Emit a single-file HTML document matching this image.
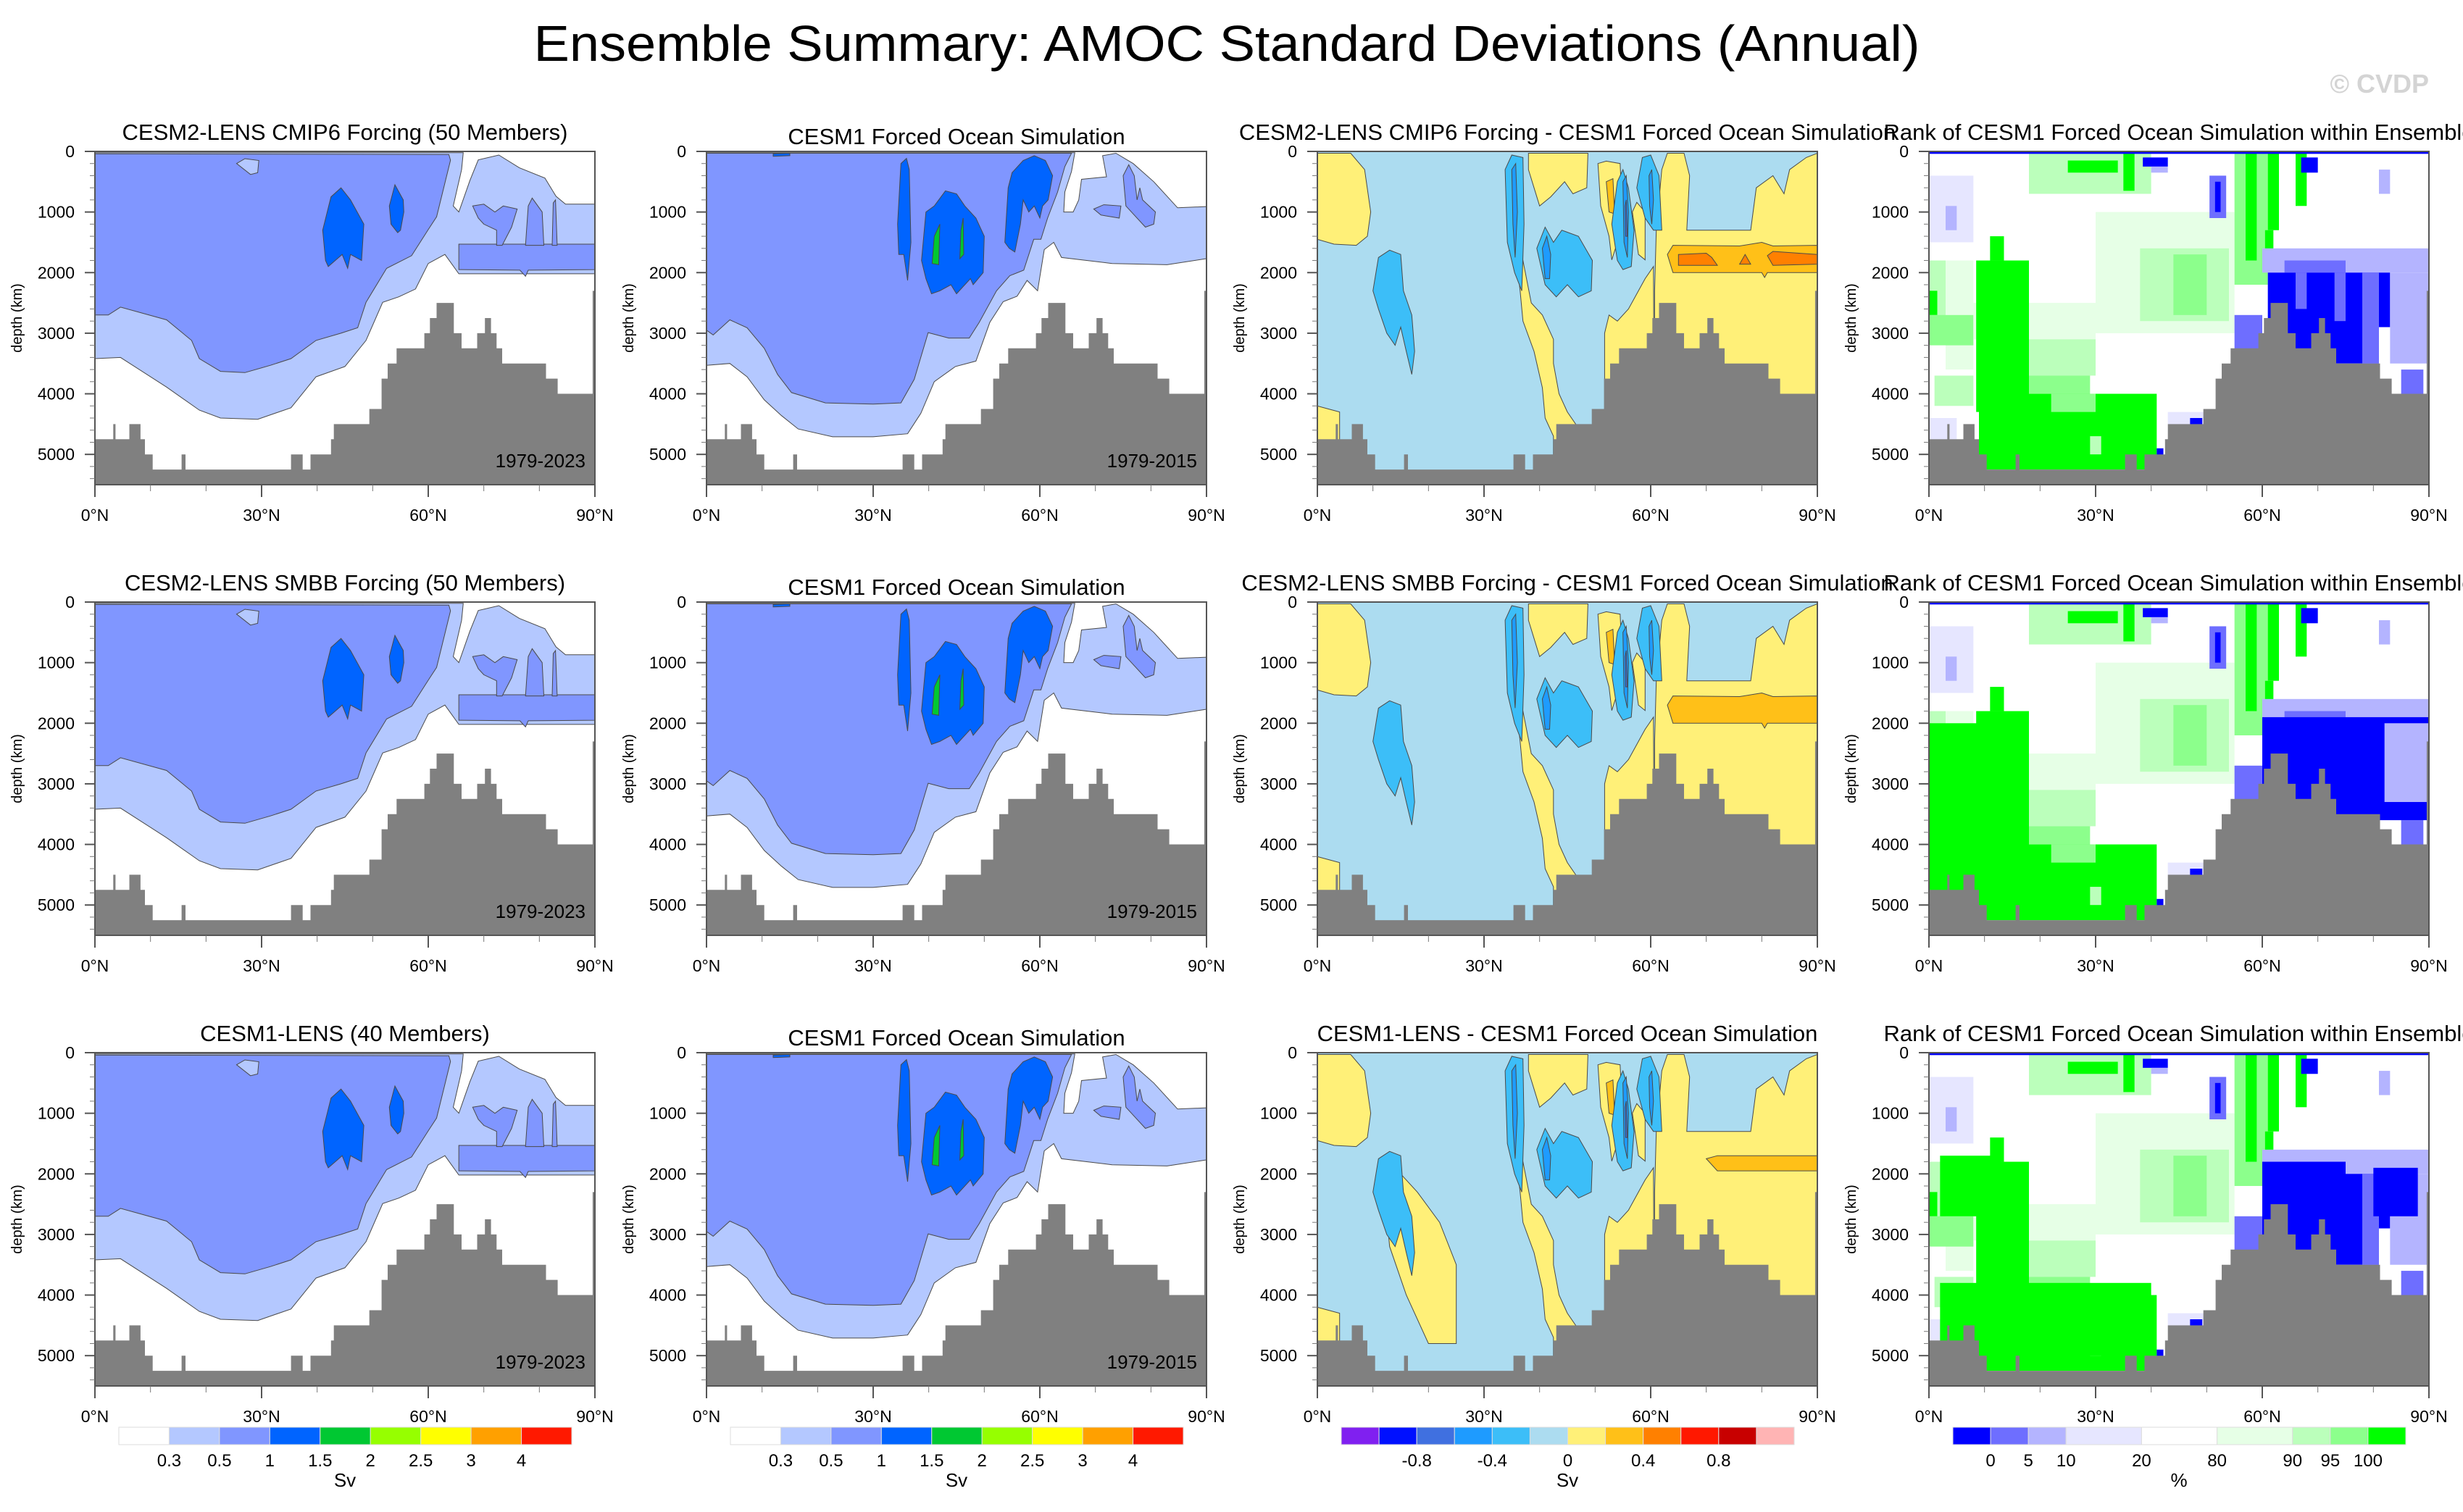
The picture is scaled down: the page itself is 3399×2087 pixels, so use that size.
<!DOCTYPE html>
<html><head><meta charset="utf-8"><title>Ensemble Summary: AMOC Standard Deviations (Annual)</title>
<style>html,body{margin:0;padding:0;background:#fff;}svg{display:block;font-family:"Liberation Sans",Arial,sans-serif;}</style>
</head><body>
<svg id="chart" xmlns="http://www.w3.org/2000/svg" width="3399" height="2087" viewBox="0 0 3399 2087">
<rect x="0" y="0" width="3399" height="2087" fill="#ffffff"/>
<text x="1693" y="84" font-size="70" text-anchor="middle" textLength="1913" lengthAdjust="spacingAndGlyphs" fill="#000">Ensemble Summary: AMOC Standard Deviations (Annual)</text>
<text x="3352" y="128" font-size="36" font-weight="bold" text-anchor="end" fill="#d4d4d4">© CVDP</text>
</svg>
<script>
// ---------- axis data ----------
const latTicks = [0, 30, 60, 90];
const latTickLabels = ['0°N', '30°N', '60°N', '90°N'];
const latMinorTicks = [10, 20, 40, 50, 70, 80];
const depthTicks = [0, 1000, 2000, 3000, 4000, 5000];
const depthTickLabels = ['0', '1000', '2000', '3000', '4000', '5000'];
const depthMinorTicks = [200,400,600,800,1200,1400,1600,1800,2200,2400,2600,2800,3200,3400,3600,3800,4200,4400,4600,4800,5200,5400];
const depthMax = 5500;
// ---------- bathymetry ----------
const bathyLatEdges = [0,3.3,3.7,6.2,8.2,9,10.4,15.6,16.3,35.3,37.4,38.8,42.5,43,49.4,51.6,52.7,54.3,59.3,60.3,61.5,64.6,66,68.8,70.2,71.3,72.3,73.3,81.2,83.3,89.6,90];
const bathyDepths = [4750,4500,4750,4500,4750,5000,5250,5000,5250,5000,5250,5000,4750,4500,4250,3750,3500,3250,3000,2750,2500,3000,3250,3000,2750,3000,3250,3500,3750,4000,2300];
// ---------- colour scales ----------
const stdColors = ['#ffffff','#b4c8ff','#8096ff','#0064ff','#00c832','#96ff00','#ffff00','#ffa000','#ff1900'];
const stdLabels = ['0.3','0.5','1','1.5','2','2.5','3','4'];
const diffColors = ['#8020f0','#0010ff','#4070e0','#1e9bff','#3cbef8','#acdcf0','#fff078','#ffc018','#ff8000','#ff1800','#c80000','#ffb4b4'];
const diffLabels = ['-0.8','-0.4','0','0.4','0.8'];
const diffLabelSlots = [2,4,6,8,10];
const rankColors = ['#0000ff','#6e6eff','#b4b4ff','#e6e6ff','#ffffff','#e6ffe6','#bbffbb','#8cff8c','#00ff00'];
const rankWidths = [1,1,1,2,2,2,1,1,1];
const rankLabels = ['0','5','10','20','80','90','95','100'];
// ---------- std-dev contour regions (lat, depth) ----------
const cesm2Light = [[0,20],[66.3,20],[66,300],[64.5,900],[65.5,1000],[67.5,480],[69,140],[72.7,60],[76.4,270],[81,440],[83,740],[84.7,870],[90,870],[90,2020],[65.5,2020],[63,1700],[60,1850],[57.7,2270],[54.7,2400],[51.8,2490],[48.8,3120],[45,3550],[39.8,3720],[35.3,4230],[29.3,4420],[22.6,4400],[18.8,4270],[12.9,3890],[4.6,3400],[0,3420]];
const cesm2Med = [[0,40],[63.7,50],[64,145],[61.5,1080],[60,1290],[57,1720],[52.5,1930],[48.8,2490],[47.3,2910],[44.3,3000],[39.8,3120],[35.3,3420],[31.6,3530],[27,3650],[22.6,3630],[18.8,3420],[17.4,3120],[12.9,2780],[4.6,2570],[2.4,2700],[0,2700]];
const cesm2MedBand = [[65.5,1530],[90,1530],[90,1950],[78,1960],[77.5,2060],[76.5,1960],[65.5,1950]];
const cesm2MedBlobA = [[68,900],[70,870],[72,1000],[73.5,900],[76,950],[75,1250],[73.3,1550],[72.3,1550],[72.3,1300],[70,1200],[69,1100]];
const cesm2MedBlobB = [[77.5,1550],[78,900],[78.7,770],[80.5,1000],[80.8,1550]];
const cesm2MedBlobC = [[82.3,1550],[82.5,850],[82.9,800],[83.2,1550]];
const cesm2LightBlob = [[25.5,200],[27,120],[29.5,150],[29.3,350],[28,380]];
const cesm2BlueA = [[41,1300],[42.5,750],[44.3,600],[46,800],[48.4,1200],[48,1800],[46,1700],[45.5,1930],[44.5,1700],[43,1820],[42,1900],[41.5,1800]];
const cesm2BlueB = [[53,900],[54,550],[55.5,800],[55.6,1000],[55,1300],[54.5,1340],[53.3,1200]];
const focLight = [[0,20],[66.3,20],[65.7,330],[64.5,670],[64.3,1000],[66,1000],[67,800],[67.5,460],[72,420],[71.3,70],[73.7,30],[76.8,200],[80.5,500],[84.8,930],[90,910],[90,1770],[82.9,1870],[73,1850],[63.9,1750],[62.5,1500],[60.8,1620],[59.6,2300],[57.7,2130],[55.9,2390],[53.4,2480],[51,2820],[48.5,3460],[44.8,3550],[41,3800],[38.6,4320],[36.2,4660],[30,4710],[22.7,4710],[16.5,4580],[13.5,4360],[10.4,4100],[7.3,3720],[4.2,3500],[0,3530]];
const focMed = [[0,30],[65.7,30],[64.5,250],[63.2,670],[61.4,1100],[60.2,1450],[58.9,1450],[57.1,1960],[54.6,2050],[52.2,2300],[49.1,2820],[47.3,3080],[43.6,3080],[39.9,2990],[37.4,3760],[35,4150],[30,4170],[21.4,4150],[15.3,3980],[12.8,3680],[10.4,3250],[7.3,2910],[4.2,2780],[1.2,3030],[0,2950]];
const focMedN1 = [[69.7,950],[71.5,880],[74.6,900],[74.3,1100],[71,1050]];
const focMedN2 = [[75,400],[76,220],[77,400],[77.5,800],[78,600],[78.5,800],[80.8,1000],[80.5,1200],[79,1250],[77,1050],[75.5,900]];
const focBlueA = [[34.4,1200],[35,200],[36,115],[36.5,300],[36.8,1500],[36.2,2130],[35.5,1700],[34.6,1700]];
const focBlueB = [[38.7,1800],[39.5,1000],[41,900],[43,650],[45,700],[46.5,900],[48.5,1100],[50,1400],[49.8,2000],[48,2200],[47.5,2100],[45,2350],[44,2200],[42,2300],[40.5,2350],[39.5,2100]];
const focBlueC = [[53.7,1500],[54.3,600],[55,350],[57,150],[59,70],[61,150],[62.3,400],[61.5,800],[60.5,900],[60,1100],[59,900],[58,1000],[57,800],[56.5,1200],[55.5,1660],[54.5,1600]];
const focBlueTop = [[12,40],[15,30],[15,70],[12,80]];
const focGreenA = [[40.6,1850],[41,1400],[42,1200],[41.8,1870]];
const focGreenB = [[45.6,1770],[45.8,1300],[46.2,1100],[46.3,1700]];
// ---------- difference regions ----------
const dYellowNW = [[0,30],[6,30],[8.5,300],[9.6,1000],[9,1400],[7,1550],[3,1530],[0,1450]];
const dYellowSW = [[0,4200],[2,4250],[4,4300],[4,5500],[0,5500]];
const dYellowMid = [[36,1900],[37,1800],[38.5,2500],[40.5,2700],[42.5,3100],[42.5,3500],[43.5,4000],[45,4300],[46.5,4500],[48,4800],[48,5500],[42.5,5500],[42.5,4700],[41,4400],[40.5,3900],[39,3300],[37,2800],[36.5,2300]];
const dYellowTop = [[38,30],[48.7,30],[48.5,600],[46,700],[44.5,500],[42,750],[40,900],[39,600],[38,300]];
const dYellowB = [[50.5,200],[52,160],[54.5,200],[54.8,800],[54,1500],[53,1790],[52.5,1400],[51,900]];
const dYellowC = [[56.7,1000],[57.5,840],[59,1000],[59,1790],[57.8,1700]];
const dYellowD = [[51.7,3000],[52.5,2700],[54,2800],[56,2600],[59,2100],[60.5,1900],[60.7,5500],[51.5,5500],[51.7,4200]];
const dYellowNE = [[60.7,5500],[60.7,2300],[61,1300],[62,300],[63,30],[66,30],[67,400],[66.5,1300],[75,1300],[78,1300],[79,600],[82,400],[84,700],[85,300],[88,100],[90,30],[90,5500]];
const dYellowRow3 = [[12,2200],[14,1900],[18,2300],[22,2800],[25,3500],[25,4800],[20,4800],[16,4000],[13,3200]];
const dGoldBand = [[63,1700],[64,1550],[76,1560],[80,1500],[82,1560],[90,1550],[90,2000],[81,2000],[80.5,2080],[80,2000],[64,2000]];
const dGoldBandR3 = [[70,1750],[72,1700],[90,1700],[90,1950],[72,1950]];
const dGoldSmall = [[52,500],[53.2,450],[53.5,1030],[52.5,1000]];
const dOrangeA = [[65,1700],[70,1680],[71,1750],[72,1880],[65,1880]];
const dOrangeB = [[76,1860],[77,1700],[78,1860]];
const dOrangeC = [[81,1720],[82,1650],[90,1700],[90,1860],[82,1880]];
const dSkyA = [[10,2300],[11,1750],[13,1630],[15,1700],[15.5,2300],[17,2700],[17.5,3300],[17,3680],[16,3300],[15,2900],[14,3200],[12.5,3000],[11,2600]];
const dSkyB = [[33.8,300],[35,60],[37,100],[37.2,1200],[36.8,2300],[35.5,2000],[34.2,1500]];
const dSkyC = [[39.5,1600],[41,1250],[42.5,1500],[44,1300],[47,1400],[49.5,1800],[49.3,2300],[47,2400],[45,2200],[43,2400],[41,2200]];
const dSkyD = [[53,1200],[54,500],[55,300],[56,600],[57,1300],[56.5,1900],[55,1950],[54,1800]];
const dSkyE = [[57.5,600],[58.5,100],[60,60],[61.5,400],[62,1300],[60.5,1300],[59,1100]];
const dDarkB = [[35,300],[35.7,200],[36,1000],[35.6,1750],[35.2,1200]];
const dDarkC = [[40.5,1600],[41.3,1400],[42,1700],[41.8,2100],[41,2100]];
const dDarkD = [[55,500],[55.6,400],[56,1000],[55.8,1750],[55.2,1500]];
const dDarkE = [[59.7,400],[60.2,300],[60.5,800],[60.2,1200],[59.8,900]];
const dRoyalD = [[55.4,900],[55.6,800],[55.8,1400],[55.5,1400]];
// ---------- rank blocks [lat0, lat1, depth0, depth1, colourIndex] ----------
const rankBlocks = [
 [0,8,400,1500,3],[3,5,900,1300,2],[0,3,1800,3000,6],[3,8,1800,3600,5],[0,1.5,2300,2700,8],[0,8,2700,3200,7],
 [1,8,3700,4200,6],[0,5,4400,4750,3],[30,55,1000,3000,5],[38,54,1600,2800,6],[44,50,1700,2700,7],
 [8,30,2500,3100,5],[18,30,3100,3700,6],[11,13.5,1400,1800,8],[8.5,18,1800,4300,8],
 [9,41,4000,5250,8],[18,29,3700,4000,7],[22,30,4000,4300,7],[29,31,4700,5000,6],
 [41,42.2,4900,5150,0],[43,53,4300,4500,3],[47,49.2,4400,4700,0],
 [18,40,30,700,6],[25,34,150,350,8],[35,37,30,650,8],[38.5,43,100,250,0],[40,43,250,350,2],
 [50.5,53.5,400,1100,1],[51.5,52.5,500,1000,0],[55,61,30,2200,7],[57,59,30,1800,8],[61,63,30,1300,8],[60.5,62,1300,1700,8],
 [66,68,30,900,8],[67,70,100,350,0],[81,83,300,700,2],
 [60,90,1600,2000,2],[64,75,1800,2000,1],[61,81,2000,3500,0],[66,68,2000,2600,1],[73,75,2000,2800,1],[78,81,2000,3500,1],
 [81,83,2000,2900,0],[83,90,2000,3500,2],[55,60,2700,3400,1],[85,89,3600,4000,1],[0,90,0,40,0]
];
const rankBlocksRow2 = [[0,18,2000,5000,8],[60,90,1900,3600,0],[82,90,2000,3300,2]];
const rankBlocksRow3 = [[2,13,1700,2700,8],[2,40,3800,5000,8],[60,75,1800,3300,0],[80,88,1900,2700,0]];

// ---------- layout ----------
const colX = [131, 975, 1818, 2662];
const rowY = [209, 831, 1453];
const W = 690, H = 460;
const NS = 'http://www.w3.org/2000/svg';
const svg = document.getElementById('chart');

function el(tag, attrs, parent) {
  const e = document.createElementNS(NS, tag);
  for (const k in attrs) e.setAttribute(k, attrs[k]);
  (parent || svg).appendChild(e);
  return e;
}
function X(p, lat) { return p.x + lat / 90 * W; }
function Y(p, d) { return p.y + d / depthMax * H; }
function poly(p, g, pts, fill, name) {
  const s = pts.map(q => X(p, q[0]).toFixed(1) + ',' + Y(p, q[1]).toFixed(1)).join(' ');
  const e = el('polygon', {points: s, fill: fill, stroke: '#4a4a4a', 'stroke-width': 1}, g);
  
  
  return e;
}
function bathy(p, g) {
  const pts = [[0, depthMax]];
  for (let i = 0; i < bathyDepths.length; i++) {
    pts.push([bathyLatEdges[i], bathyDepths[i]]);
    pts.push([bathyLatEdges[i + 1], bathyDepths[i]]);
  }
  pts.push([90, depthMax]);
  const s = pts.map(q => X(p, q[0]).toFixed(1) + ',' + Y(p, q[1]).toFixed(1)).join(' ');
  const e = el('polygon', {points: s, fill: '#808080'}, g);
  
  
}
function axes(p, g, title, titleDy) {
  const fr = el('rect', {x: p.x, y: p.y, width: W, height: H, fill: 'none', stroke: '#555', 'stroke-width': 2}, g);
  
  
  depthTicks.forEach((d, i) => {
    const t = el('line', {x1: p.x - 14, x2: p.x, y1: Y(p, d), y2: Y(p, d), stroke: '#555', 'stroke-width': 2}, g);
    
    
    const lb = el('text', {x: p.x - 28, y: Y(p, d) + 8, 'font-size': 23, 'text-anchor': 'end'}, g);
    lb.textContent = depthTickLabels[i];
    
    
  });
  depthMinorTicks.forEach(d => {
    const t = el('line', {x1: p.x - 7, x2: p.x, y1: Y(p, d), y2: Y(p, d), stroke: '#777', 'stroke-width': 1}, g);
    
    
  });
  latTicks.forEach((l, i) => {
    const t = el('line', {x1: X(p, l), x2: X(p, l), y1: p.y + H, y2: p.y + H + 17, stroke: '#555', 'stroke-width': 2}, g);
    
    
    const lb = el('text', {x: X(p, l), y: p.y + H + 50, 'font-size': 23, 'text-anchor': 'middle'}, g);
    lb.textContent = latTickLabels[i];
    
    
  });
  latMinorTicks.forEach(l => {
    const t = el('line', {x1: X(p, l), x2: X(p, l), y1: p.y + H, y2: p.y + H + 9, stroke: '#777', 'stroke-width': 1}, g);
    
    
  });
  const yt = el('text', {x: 0, y: 0, 'font-size': 20, 'text-anchor': 'middle', transform: 'translate(' + (p.x - 101) + ',' + (p.y + H / 2) + ') rotate(-90)'}, g);
  yt.textContent = 'depth (km)';
  
  
  const tt = el('text', {x: p.x + W / 2, y: p.y - titleDy, 'font-size': 31, 'text-anchor': 'middle'}, g);
  tt.textContent = title;
  
  
}
function clipFor(p, id) {
  const cp = el('clipPath', {id: id});
  el('rect', {x: p.x, y: p.y, width: W, height: H}, cp);
  return 'url(#' + id + ')';
}

const rowTitles = [
  ['CESM2-LENS CMIP6 Forcing (50 Members)', 'CESM1 Forced Ocean Simulation', 'CESM2-LENS CMIP6 Forcing - CESM1 Forced Ocean Simulation', 'Rank of CESM1 Forced Ocean Simulation within Ensemble'],
  ['CESM2-LENS SMBB Forcing (50 Members)', 'CESM1 Forced Ocean Simulation', 'CESM2-LENS SMBB Forcing - CESM1 Forced Ocean Simulation', 'Rank of CESM1 Forced Ocean Simulation within Ensemble'],
  ['CESM1-LENS (40 Members)', 'CESM1 Forced Ocean Simulation', 'CESM1-LENS - CESM1 Forced Ocean Simulation', 'Rank of CESM1 Forced Ocean Simulation within Ensemble']
];
const periodLabels = ['1979-2023', '1979-2015'];

for (let r = 0; r < 3; r++) {
  for (let c = 0; c < 4; c++) {
    const p = {x: colX[c], y: rowY[r]};
    const g = el('g', {});
    
    
    const inner = el('g', {'clip-path': clipFor(p, 'clip' + r + c)}, g);
    const bg = el('rect', {x: p.x, y: p.y, width: W, height: H, fill: c === 2 ? diffColors[5] : '#fff'}, inner);
    
    
    if (c === 0) {
      poly(p, inner, cesm2Light, stdColors[1], 'contour-0.3-0.5');
      poly(p, inner, cesm2Med, stdColors[2], 'contour-0.5-1');
      poly(p, inner, cesm2LightBlob, stdColors[1], 'contour-0.3-0.5');
      poly(p, inner, cesm2MedBand, stdColors[2], 'contour-0.5-1');
      poly(p, inner, cesm2MedBlobA, stdColors[2], 'contour-0.5-1');
      poly(p, inner, cesm2MedBlobB, stdColors[2], 'contour-0.5-1');
      poly(p, inner, cesm2MedBlobC, stdColors[2], 'contour-0.5-1');
      poly(p, inner, cesm2BlueA, stdColors[3], 'contour-1-1.5');
      poly(p, inner, cesm2BlueB, stdColors[3], 'contour-1-1.5');
    } else if (c === 1) {
      poly(p, inner, focLight, stdColors[1], 'contour-0.3-0.5');
      poly(p, inner, focMed, stdColors[2], 'contour-0.5-1');
      poly(p, inner, focMedN1, stdColors[2], 'contour-0.5-1');
      poly(p, inner, focMedN2, stdColors[2], 'contour-0.5-1');
      poly(p, inner, focBlueA, stdColors[3], 'contour-1-1.5');
      poly(p, inner, focBlueB, stdColors[3], 'contour-1-1.5');
      poly(p, inner, focBlueC, stdColors[3], 'contour-1-1.5');
      poly(p, inner, focBlueTop, stdColors[3], 'contour-1-1.5');
      poly(p, inner, focGreenA, stdColors[4], 'contour-1.5-2');
      poly(p, inner, focGreenB, stdColors[4], 'contour-1.5-2');
    } else if (c === 2) {
      [dYellowNW, dYellowSW, dYellowMid, dYellowTop, dYellowB, dYellowC, dYellowD, dYellowNE].forEach(a => poly(p, inner, a, diffColors[6], 'contour-0-0.2'));
      if (r === 2) poly(p, inner, dYellowRow3, diffColors[6], 'contour-0-0.2');
      if (r === 2) poly(p, inner, dGoldBandR3, diffColors[7], 'contour-0.2-0.4');
      else poly(p, inner, dGoldBand, diffColors[7], 'contour-0.2-0.4');
      poly(p, inner, dGoldSmall, diffColors[7], 'contour-0.2-0.4');
      if (r === 0) [dOrangeA, dOrangeB, dOrangeC].forEach(a => poly(p, inner, a, diffColors[8], 'contour-0.4-0.6'));
      [dSkyA, dSkyB, dSkyC, dSkyD, dSkyE].forEach(a => poly(p, inner, a, diffColors[4], 'contour-neg0.2-0'));
      [dDarkB, dDarkC, dDarkD, dDarkE].forEach(a => poly(p, inner, a, diffColors[3], 'contour-neg0.4-neg0.2'));
      poly(p, inner, dRoyalD, diffColors[2], 'contour-neg0.6-neg0.4');
    } else {
      const blocks = rankBlocks.concat(r === 1 ? rankBlocksRow2 : r === 2 ? rankBlocksRow3 : []);
      blocks.forEach(b => {
        const e = el('rect', {x: X(p, b[0]), y: Y(p, b[2]), width: X(p, b[1]) - X(p, b[0]), height: Y(p, b[3]) - Y(p, b[2]), fill: rankColors[b[4]]}, inner);
        
        
      });
    }
    bathy(p, inner);
    if (c < 2) {
      const pl = el('text', {x: p.x + W - 13, y: p.y + 436, 'font-size': 26, 'text-anchor': 'end'}, g);
      pl.textContent = periodLabels[c];
      
      
    }
    axes(p, g, rowTitles[r][c], c === 1 ? 10 : 16);
  }
}

// ---------- colour bars ----------
function colorbar(cx, colors, widths, labels, slots, unit, name) {
  const g = el('g', {});
  
  
  const total = widths.reduce((a, b) => a + b, 0);
  const x0 = cx - 312, bw = 625, y0 = 1970, bh = 24;
  const edges = [0];
  widths.forEach(w => edges.push(edges[edges.length - 1] + w));
  colors.forEach((col, i) => {
    const e = el('rect', {x: x0 + edges[i] / total * bw, y: y0, width: widths[i] / total * bw, height: bh, fill: col, stroke: '#ddd', 'stroke-width': 1}, g);
    
    
  });
  labels.forEach((lb, i) => {
    const t = el('text', {x: x0 + edges[slots[i]] / total * bw, y: 2024, 'font-size': 24, 'text-anchor': 'middle'}, g);
    t.textContent = lb;
    
    
  });
  const u = el('text', {x: cx, y: 2052, 'font-size': 26, 'text-anchor': 'middle'}, g);
  u.textContent = unit;
  
  
}
const ones9 = [1,1,1,1,1,1,1,1,1];
const ones12 = [1,1,1,1,1,1,1,1,1,1,1,1];
colorbar(colX[0] + W / 2, stdColors, ones9, stdLabels, [1,2,3,4,5,6,7,8], 'Sv', 'colorbar-std-col1');
colorbar(colX[1] + W / 2, stdColors, ones9, stdLabels, [1,2,3,4,5,6,7,8], 'Sv', 'colorbar-std-col2');
colorbar(colX[2] + W / 2, diffColors, ones12, diffLabels, diffLabelSlots, 'Sv', 'colorbar-difference');
colorbar(colX[3] + W / 2, rankColors, rankWidths, rankLabels, [1,2,3,4,5,6,7,8], '%', 'colorbar-rank');
</script>
</body></html>
